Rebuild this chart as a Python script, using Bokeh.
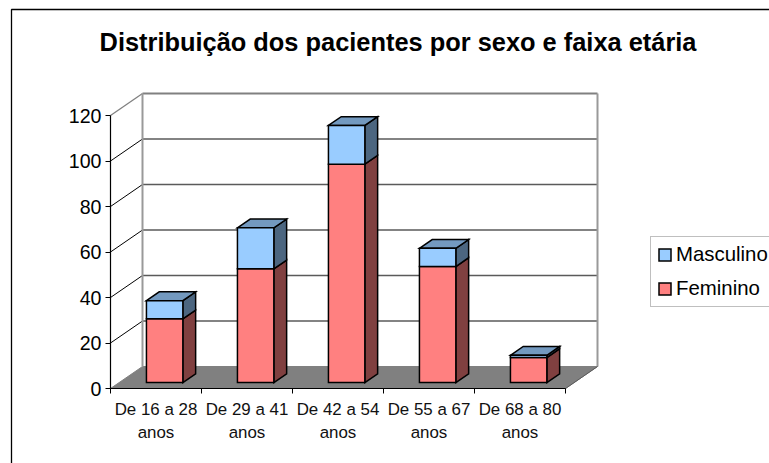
from bokeh.embed import file_html
from bokeh.resources import INLINE
from bokeh.plotting import figure
from bokeh.models import (Range1d, LinearAxis, FixedTicker, Legend, LegendItem,
                          BoxAnnotation, Label)

categories = ["De 16 a 28", "De 29 a 41", "De 42 a 54", "De 55 a 67", "De 68 a 80"]
feminino = [28, 50, 96, 51, 11]
masculino = [8, 18, 17, 8, 1]
y_ticks = [0, 20, 40, 60, 80, 100, 120]
title_text = "Distribuição dos pacientes por sexo e faixa etária"
FONT = "Liberation Sans"

W, H = 769, 463
X0, Y0 = 110, 388      # where category 0 / value 0 sit on the page
SX, SY = 91, 2.275     # pixels per category / per value

# oblique projection: depth 0 = front plane, depth 1 = back wall
DX, DY = 32 / SX, 22 / SY
D0, D1 = 0.27, 0.67
BAR_W = 0.40


def px(c, d):
    return c + d * DX


def py(v, d):
    return v + d * DY


p = figure(width=W, height=H, output_backend="svg", toolbar_location=None,
           x_range=Range1d(-X0 / SX, (W - X0) / SX),
           y_range=Range1d(-(H - Y0) / SY, Y0 / SY),
           min_border=0, x_axis_type=None, y_axis_type=None, outline_line_color=None, tools="")
p.xgrid.visible = False
p.ygrid.visible = False
p.background_fill_color = "white"
p.border_fill_color = "white"

# outer chart frame
p.add_layout(BoxAnnotation(left=11, right=900, top=9, bottom=900,
                           left_units="canvas", right_units="canvas",
                           top_units="canvas", bottom_units="canvas",
                           fill_alpha=0, line_color="black", line_alpha=1, line_width=1.3))

p.add_layout(Label(x=397.5, y=H - 41.5, x_units="screen", y_units="screen", text=title_text,
                   text_align="center", text_baseline="middle", text_font=FONT,
                   text_font_size="25.4px", text_font_style="bold", text_color="black"))

# floor
p.patch([px(0, 0), px(5, 0), px(5, 1), px(0, 1)], [py(0, 0), py(0, 0), py(0, 1), py(0, 1)],
        fill_color="#808080", line_color="#808080")

# walls and gridlines
for v in y_ticks[1:]:
    top = v == y_ticks[-1]
    p.line([px(0, 1), px(5, 1)], [py(v, 1), py(v, 1)],
           line_color="#808080" if top else "#5a5a5a", line_width=2 if top else 1.3)
    p.line([px(0, 0), px(0, 1)], [py(v, 0), py(v, 1)],
           line_color="#808080" if top else "black", line_width=1.3 if top else 1)
p.line([px(0, 1), px(0, 1)], [py(0, 1), py(y_ticks[-1], 1)], line_color="#999999", line_width=2)
p.line([px(5, 1), px(5, 1)], [py(0, 1), py(y_ticks[-1], 1)], line_color="#999999", line_width=2)
p.line([px(5, 0), px(5, 1)], [py(0, 0), py(0, 1)], line_color="#5a5a5a", line_width=1)

lefts, rights, fem_tops, tot_tops = [], [], [], []
fem_side_x, fem_side_y, mas_side_x, mas_side_y, top_x, top_y = [], [], [], [], [], []
for i, (f, m) in enumerate(zip(feminino, masculino)):
    l = i + 0.5 - BAR_W / 2
    r = i + 0.5 + BAR_W / 2
    t = f + m
    lefts.append(px(l, D0))
    rights.append(px(r, D0))
    fem_tops.append(py(f, D0))
    tot_tops.append(py(t, D0))
    fem_side_x.append([px(r, D0), px(r, D1), px(r, D1), px(r, D0)])
    fem_side_y.append([py(0, D0), py(0, D1), py(f, D1), py(f, D0)])
    mas_side_x.append([px(r, D0), px(r, D1), px(r, D1), px(r, D0)])
    mas_side_y.append([py(f, D0), py(f, D1), py(t, D1), py(t, D0)])
    top_x.append([px(l, D0), px(l, D1), px(r, D1), px(r, D0)])
    top_y.append([py(t, D0), py(t, D1), py(t, D1), py(t, D0)])

base = [py(0, D0)] * len(categories)
EDGE = dict(line_color="black", line_width=1.5, line_join="miter")
p.patches(fem_side_x, fem_side_y, fill_color="#804040", **EDGE)
fem_r = p.quad(left=lefts, right=rights, bottom=base, top=fem_tops, fill_color="#FF8080", **EDGE)
p.patches(mas_side_x, mas_side_y, fill_color="#4C6680", **EDGE)
p.patches(top_x, top_y, fill_color="#7399BF", **EDGE)
mas_r = p.quad(left=lefts, right=rights, bottom=fem_tops, top=tot_tops, fill_color="#99CCFF", **EDGE)

# axes
yax = LinearAxis(ticker=FixedTicker(ticks=y_ticks), bounds=(0, 120), fixed_location=0,
                 axis_line_color="black", axis_line_width=1.2,
                 major_tick_line_color="black", major_tick_line_width=1,
                 major_tick_in=0, major_tick_out=5, minor_tick_in=0, minor_tick_out=0,
                 major_label_standoff=4, major_label_text_font=FONT,
                 major_label_text_font_size="19.6px", major_label_text_color="black")
p.add_layout(yax, "left")

xax = LinearAxis(ticker=FixedTicker(ticks=[0, 1, 2, 3, 4, 5]), bounds=(0, 5), fixed_location=0,
                 major_label_overrides={i: "" for i in range(6)},
                 axis_line_color="black", axis_line_width=1.2,
                 major_tick_line_color="black", major_tick_line_width=1,
                 major_tick_in=0, major_tick_out=5, minor_tick_in=0, minor_tick_out=0,
                 major_label_standoff=0)
p.add_layout(xax, "below")

label_map = {i + 0.5: c + "\nanos" for i, c in enumerate(categories)}
lab = LinearAxis(ticker=FixedTicker(ticks=list(label_map)), major_label_overrides=label_map,
                 fixed_location=0,
                 axis_line_color=None, major_tick_line_color=None, minor_tick_line_color=None,
                 major_tick_in=0, major_tick_out=0, minor_tick_in=0, minor_tick_out=0,
                 major_label_standoff=11, major_label_text_font=FONT,
                 major_label_text_font_size="16.9px", major_label_text_color="#111111",
                 major_label_text_line_height=1.26)
p.add_layout(lab, "below")

# legend
legend = Legend(items=[LegendItem(label="Masculino", renderers=[mas_r]),
                       LegendItem(label="Feminino", renderers=[fem_r])],
                location=(650, 156), margin=0, padding=6, spacing=11,
                glyph_width=15, glyph_height=15, label_standoff=4,
                label_text_font=FONT, label_text_font_size="20.4px", label_text_color="black",
                border_line_color="#808080", border_line_width=1.4, background_fill_color="white")
p.add_layout(legend, "center")

open("out.html", "w").write(file_html(p, INLINE))
